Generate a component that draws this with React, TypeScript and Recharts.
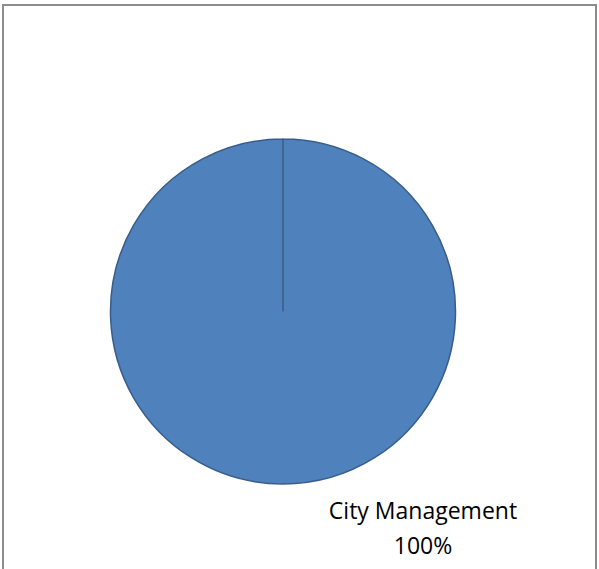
import React from "react";
import { PieChart, Pie, Cell } from "recharts";

const categories = ["City Management"];
const values = [100];
const colors = ["#4F81BD"];

const data = categories.map((name, i) => ({ name, value: values[i] }));
const total = values.reduce((a, b) => a + b, 0);

// label sits below-right of the pie, two lines: name then percent
const renderLabel = (props: any) => {
  const { cx, cy, name, value } = props;
  const x = cx + 140;
  return (
    <text
      x={x}
      y={cy + 207}
      textAnchor="middle"
      fill="#000"
      style={{ fontFamily: "'Open Sans', sans-serif", fontSize: 23 }}
    >
      <tspan x={x} dy={0}>{name}</tspan>
      <tspan x={x} dy={35}>{`${Math.round((value / total) * 100)}%`}</tspan>
    </text>
  );
};

export default function App() {
  return (
    <div style={{ position: "absolute", left: 0, top: 0, width: 599, height: 569, overflow: "hidden", background: "#fff" }}>
      <div
        style={{
          position: "absolute",
          left: 2,
          top: 4,
          width: 595,
          height: 620,
          border: "2px solid #8C8C8C",
          boxSizing: "border-box",
        }}
      />
      <PieChart
        width={599}
        height={569}
        margin={{ top: 0, right: 0, bottom: 0, left: 0 }}
        style={{ position: "absolute", left: 0, top: 0 }}
      >
        <Pie
          data={data}
          dataKey="value"
          nameKey="name"
          cx={283}
          cy={311.5}
          outerRadius={172.5}
          startAngle={90}
          endAngle={-270}
          stroke="#385D8A"
          strokeWidth={1.5}
          label={renderLabel}
          labelLine={false}
          isAnimationActive={false}
        >
          {data.map((d, i) => (
            <Cell key={d.name} fill={colors[i]} />
          ))}
        </Pie>
      </PieChart>
    </div>
  );
}
